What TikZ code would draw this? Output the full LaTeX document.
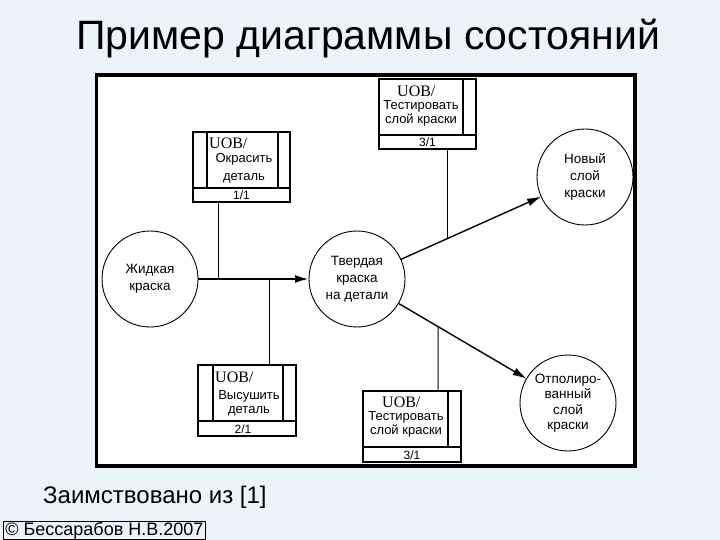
\documentclass[tikz,border=0pt]{standalone}
\usepackage{fontspec}
\setmainfont{Liberation Sans}
\newfontfamily\serifuob{Liberation Serif}
\usetikzlibrary{arrows.meta,calc}
\definecolor{bgblue}{RGB}{235,244,248}
\begin{document}
\begin{tikzpicture}[x=1pt,y=-1pt,
  stateC/.style={draw,circle,line width=0.9pt,minimum size=96pt,inner sep=0pt,outer sep=0pt,align=center,font=\fontsize{13.5}{17}\selectfont},
  uobbox/.style={draw,line width=1.2pt,rectangle,inner sep=0pt,outer sep=0pt},
  lbl/.style={inner sep=0pt,align=center,font=\fontsize{13}{14}\selectfont},
  uob/.style={inner sep=0pt,anchor=west,font=\serifuob\fontsize{16}{16}\selectfont},
  num/.style={inner sep=0pt,font=\fontsize{12}{12}\selectfont},
  inner/.style={line width=1.2pt},
  link/.style={line width=1pt},
  flow/.style={line width=1.4pt,-{Latex[length=14pt,width=8pt]}},
]
\useasboundingbox (0,0) rectangle (720,540);
\fill[bgblue] (0,0) rectangle (720,540);
\draw[line width=3.5pt,fill=white] (96.5,75) rectangle (635,466);

\node[anchor=base west,inner sep=0pt,font=\fontsize{41}{43}\selectfont] (title) at (76,50) {Пример диаграммы состояний};
\node[anchor=base west,inner sep=0pt,font=\fontsize{24}{26}\selectfont] (src) at (43,503) {Заимствовано из [1]};
\node[draw,line width=0.8pt,anchor=base west,inner xsep=2pt,inner ysep=1pt,text height=13pt,text depth=3.5pt,font=\fontsize{18}{20}\selectfont] (copy) at (3,535) {© Бессарабов Н.В.2007};

% states
\node[stateC] (ja) at (150,279) {Жидкая\\краска};
\node[stateC] (tv) at (357,279) {Твердая\\краска\\на детали};
\node[stateC] (nv) at (585,177) {Новый\\слой\\краски};
\node[stateC,font=\fontsize{13.5}{15.5}\selectfont] (op) at (568,403) {Отполиро-\\ванный\\слой\\краски};

% box 1
\node[uobbox,minimum width=97pt,minimum height=70pt] (b1) at (241.5,167) {};
\draw[inner] ($(b1.south west)+(0,-14)$) -- ($(b1.south east)+(0,-14)$);
\draw[inner] ($(b1.north west)+(14,0)$) -- ($(b1.south west)+(14,-14)$);
\draw[inner] ($(b1.north east)+(-12,0)$) -- ($(b1.south east)+(-12,-14)$);
\node[uob] (b1u) at (209,143) {UOB/};
\node[lbl,font=\fontsize{13}{18}\selectfont] (b1t) at (244,168) {Окрасить\\деталь};
\node[num] (b1n) at (241.5,195) {1/1};

% box 3 top
\node[uobbox,minimum width=97pt,minimum height=70pt] (b3) at (427.5,114) {};
\draw[inner] ($(b3.south west)+(0,-14)$) -- ($(b3.south east)+(0,-14)$);
\draw[inner] ($(b3.north east)+(-13,0)$) -- ($(b3.south east)+(-13,-14)$);
\node[uob] (b3u) at (397,91) {UOB/};
\node[lbl] (b3t) at (421,113) {Тестировать\\слой краски};
\node[num] (b3n) at (427.5,142) {3/1};

% box 2
\node[uobbox,minimum width=98pt,minimum height=71pt] (b2) at (247,400.5) {};
\draw[inner] ($(b2.south west)+(0,-15)$) -- ($(b2.south east)+(0,-15)$);
\draw[inner] ($(b2.north west)+(15,0)$) -- ($(b2.south west)+(15,-15)$);
\draw[inner] ($(b2.north east)+(-13,0)$) -- ($(b2.south east)+(-13,-15)$);
\node[uob] (b2u) at (215,377) {UOB/};
\node[lbl] (b2t) at (249,403) {Высушить\\деталь};
\node[num] (b2n) at (243,429) {2/1};

% box 4 bottom
\node[uobbox,minimum width=98pt,minimum height=71pt] (b4) at (412,426.5) {};
\draw[inner] ($(b4.south west)+(0,-15)$) -- ($(b4.south east)+(0,-15)$);
\draw[line width=2pt] ($(b4.north east)+(-13,0)$) -- ($(b4.south east)+(-13,-15)$);
\node[uob] (b4u) at (382,402) {UOB/};
\node[lbl] (b4t) at (406,424) {Тестировать\\слой краски};
\node[num] (b4n) at (412,455) {3/1};

% transitions
\draw[flow,line width=2.2pt] (ja) -- (tv);
\draw[flow] (tv) -- (nv);
\draw[flow] (tv) -- (op);

% links from boxes
\coordinate (b1p) at ($(b1.south west)+(25,0)$);
\draw[link] (b1p) -- (b1p |- ja.center);
\coordinate (b2p) at ($(b2.north west)+(71,0)$);
\draw[link] (b2p) -- (b2p |- ja.center);
\coordinate (b3p) at ($(b3.south west)+(68,0)$);
\coordinate (b3q) at ($(b3p)+(0,150)$);
\draw[link] (b3p) -- (intersection of tv--nv and b3p--b3q);
\coordinate (b4p) at ($(b4.north west)+(75,0)$);
\coordinate (b4q) at ($(b4p)+(0,-150)$);
\draw[link] (b4p) -- (intersection of tv--op and b4p--b4q);
\end{tikzpicture}
\end{document}
